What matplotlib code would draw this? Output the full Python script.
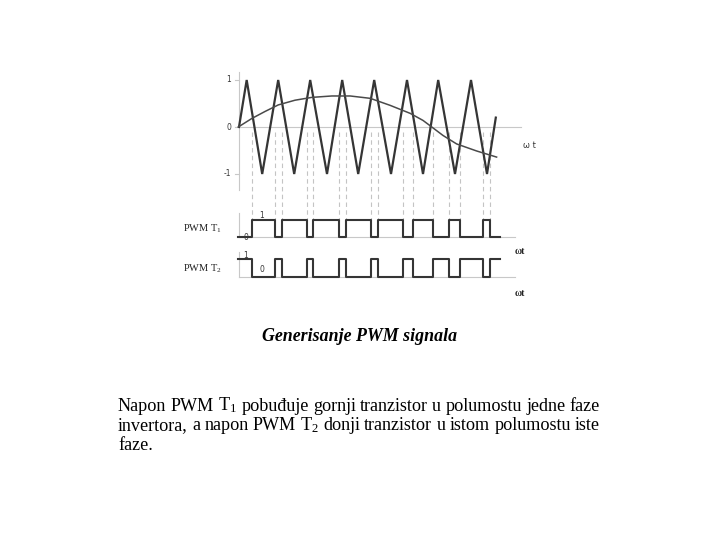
import matplotlib
matplotlib.use('Agg')
import matplotlib.pyplot as plt

plt.rcParams['mathtext.fontset'] = 'custom'
plt.rcParams['mathtext.rm'] = 'Liberation Serif'
plt.rcParams['mathtext.it'] = 'Liberation Serif:italic'
plt.rcParams['mathtext.bf'] = 'Liberation Serif:bold'

# carrier (triangle) vertices, omega*t in carrier quarter periods
TRI_X = [0.0, 0.96, 2.9, 4.9, 6.9, 8.9, 11.0, 12.9, 14.9, 16.9, 19.0, 21.0, 23.0, 24.9, 27.0, 29.0, 31.0, 32.1]
TRI_Y = [0.0, 1.0, -1.0, 1.0, -1.0, 1.0, -1.0, 1.0, -1.0, 1.0, -1.0, 1.0, -1.0, 1.0, -1.0, 1.0, -1.0, 0.2]

# reference (sine)
SINE_X = [-0.09, 1.59, 3.25, 4.91, 7.0, 9.09, 11.6, 13.9, 16.4, 18.9, 21.4, 23.0, 24.1, 25.5, 27.2, 29.7, 32.2]
SINE_Y = [0.0, 0.18, 0.33, 0.47, 0.57, 0.63, 0.66, 0.66, 0.61, 0.46, 0.29, 0.14, 0.0, -0.18, -0.36, -0.51, -0.64]

# switching instants of PWM T1 (T2 is its complement)
PWM_START = -0.1
PWM_END = 32.6
PWM_EDGES = [1.66, 4.5, 5.34, 8.46, 9.29, 12.5, 13.34, 16.44, 17.35, 20.44,
             21.71, 24.19, 26.29, 27.6, 30.49, 31.33]
T1_FIRST = 0
T2_FIRST = 1

TITLE = 'Generisanje PWM signala'
BODY_LINES = [
    'Napon PWM T$_1$ pobuđuje gornji tranzistor u polumostu jedne faze',
    'invertora, a napon PWM T$_2$ donji tranzistor u istom polumostu iste',
    'faze.',
]

W, H = 720, 540
PX_X0, PX_PER_X = 239.0, 8.0
PX_Y0, PX_PER_Y = 127.0, 47.0

GRID = '#c8c8c8'
INK = '#353535'


def py(pix):
    return (PX_Y0 - pix) / PX_PER_Y


def px(pix):
    return (pix - PX_X0) / PX_PER_X


def step_trace(first, base, height):
    xs = [PWM_START] + PWM_EDGES + [PWM_END]
    lev = first
    ys = []
    for _ in range(len(PWM_EDGES) + 1):
        ys.append(base + lev * height)
        lev = 1 - lev
    ys.append(ys[-1])
    return xs, ys


def justify(fig, line, left, right, base_px, size, last=False):
    renderer = fig.canvas.get_renderer()
    words = line.split(' ')
    widths = []
    for w in words:
        t = fig.text(0, 0, w, fontsize=size, family='Liberation Serif')
        widths.append(t.get_window_extent(renderer).width)
        t.remove()
    if last or len(words) == 1:
        space = size * 0.25 * fig.dpi / 72
    else:
        space = (right - left - sum(widths)) / (len(words) - 1)
    x = left
    for w, wd in zip(words, widths):
        fig.text(x / W, 1 - base_px / H, w, fontsize=size, family='Liberation Serif',
                 ha='left', va='baseline', color='black')
        x += wd + space


fig = plt.figure(figsize=(7.2, 5.4), dpi=100)
fig.patch.set_facecolor('white')

left_px, right_px, top_px, bot_px = 180, 540, 60, 300
ax = fig.add_axes([left_px / W, 1 - bot_px / H, (right_px - left_px) / W, (bot_px - top_px) / H])
ax.set_xlim(px(left_px), px(right_px))
ax.set_ylim(py(bot_px), py(top_px))
ax.axis('off')

# top diagram axes
ax.plot([0, 0], [py(72), py(190)], color=GRID, lw=0.8)
ax.plot([0, px(521)], [0, 0], color=GRID, lw=0.8)
for v in [1, 0, -1]:
    ax.plot([-0.45, 0], [v, v], color=GRID, lw=0.8)
ax.text(-1.0, 1, '1', fontsize=5.5, ha='right', va='center', color=INK)
ax.text(-1.0, 0, '0', fontsize=5.5, ha='right', va='center', color=INK)
ax.text(-1.0, -1, '-1', fontsize=5.5, ha='right', va='center', color=INK)
ax.text(px(523), py(145), 'ω t', fontsize=6, ha='left', va='center', color=INK)

# PWM levels
t1_base, t1_h = py(237.3), py(220) - py(237.3)
t2_base, t2_h = py(277.3), py(259.3) - py(277.3)

# dashed projection lines
for e in PWM_EDGES:
    ax.plot([e, e], [-0.1, t1_base + t1_h], color='#c4c4c4', lw=0.8, ls=(0, (4, 3)))

ax.plot(TRI_X, TRI_Y, color=INK, lw=1.6, solid_joinstyle='miter')
ax.plot(SINE_X, SINE_Y, color='#4a4a4a', lw=1.1)

for base, h in [(t1_base, t1_h), (t2_base, t2_h)]:
    ax.plot([0, px(515)], [base, base], color=GRID, lw=0.8)
    ax.plot([0, 0], [base, base + h * 1.4], color=GRID, lw=0.8)

xs, ys = step_trace(T1_FIRST, t1_base, t1_h)
ax.step(xs, ys, where='post', color=INK, lw=1.5)
xs, ys = step_trace(T2_FIRST, t2_base, t2_h)
ax.step(xs, ys, where='post', color=INK, lw=1.5)

ax.text(px(222), py(229), 'PWM T$_1$', fontsize=7.5, family='Liberation Serif', ha='right', va='center', color='#222222')
ax.text(px(222), py(269), 'PWM T$_2$', fontsize=7.5, family='Liberation Serif', ha='right', va='center', color='#222222')
ax.text(px(262), py(215), '1', fontsize=5.5, ha='center', va='center', color=INK)
ax.text(px(246), py(238), '0', fontsize=5.5, ha='center', va='center', color=INK)
ax.text(px(246), py(256), '1', fontsize=5.5, ha='center', va='center', color=INK)
ax.text(px(262), py(270), '0', fontsize=5.5, ha='center', va='center', color=INK)
ax.text(px(515), py(252), 'ωt', fontsize=7, family='Liberation Serif', weight='bold', ha='left', va='center', color='#222222')
ax.text(px(515), py(293), 'ωt', fontsize=7, family='Liberation Serif', weight='bold', ha='left', va='center', color='#222222')

fig.text(359.5 / W, 1 - 341 / H, TITLE, fontsize=12.9, family='Liberation Serif',
         weight='bold', style='italic', ha='center', va='baseline')

for i, (line, base) in enumerate(zip(BODY_LINES, [410.7, 430.3, 449.8])):
    justify(fig, line, 118, 600, base, 13.1, last=(i == len(BODY_LINES) - 1))

fig.savefig('out.png', dpi=100, facecolor='white')
